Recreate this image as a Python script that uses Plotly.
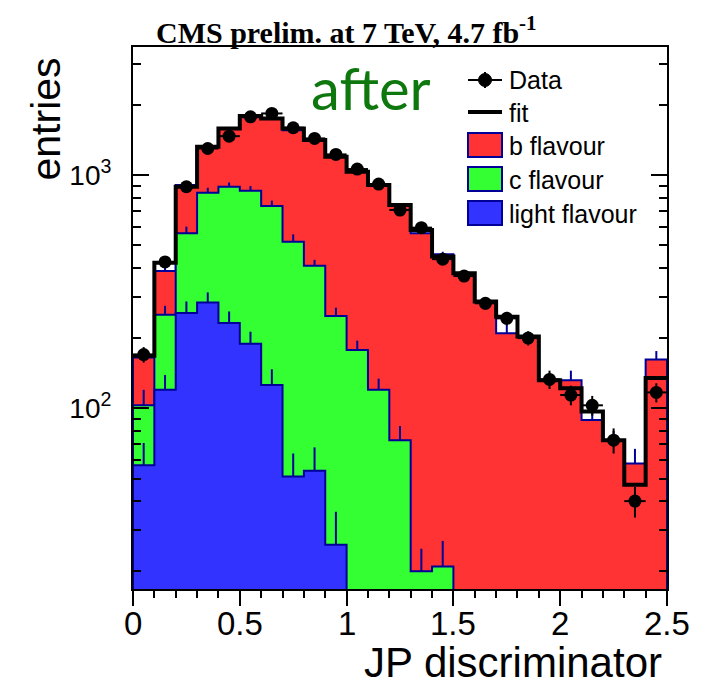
import numpy as np
import plotly.graph_objects as go

# ---------------- data ----------------
bin_edges = [round(0.1 * i, 1) for i in range(26)]
bin_centers = [round(0.05 + 0.1 * i, 2) for i in range(25)]

data_vals = [170, 424, 891, 1300, 1468, 1777, 1837, 1595, 1436, 1226, 1061, 915, 708,
             595, 436, 369, 282, 243, 200, 133, 114, 103, 73, 40, 117]
data_errs = [13, 21, 30, 36, 38, 42, 43, 40, 38, 35, 33, 30, 27,
             24, 21, 19, 17, 16, 14, 12, 11, 10, 9, 6, 11]

fit_vals = [168, 421, 890, 1321, 1585, 1790, 1749, 1585, 1412, 1198, 1033, 906, 744,
            581, 447, 379, 287, 247, 203, 132, 122, 97, 73, 47, 135]

light_vals = [57, 120, 256, 284, 232, 189, 126, 51, 54, 26, 0, 0, 0,
              0, 0, 0, 0, 0, 0, 0, 0, 0, 0, 0, 0]
c_vals = [46, 132, 307, 556, 659, 668, 611, 467, 354, 223, 178, 120, 73,
          20, 21, 0, 0, 0, 0, 0, 0, 0, 0, 0, 0]
b_vals = [62, 136, 343, 480, 694, 913, 1012, 1040, 1004, 945, 852, 786, 666,
          543, 437, 380, 286, 210, 203, 132, 132, 89, 73, 58, 162]

light_errs = [14, 19, 31, 30, 28, 24, 21, 13, 14, 10, 0, 0, 0,
              0, 0, 0, 0, 0, 0, 0, 0, 0, 0, 0, 0]
lc_errs = [17, 23, 38, 42, 38, 40, 40, 39, 25, 21, 17, 14, 11,
           5, 6, 0, 0, 0, 0, 0, 0, 0, 0, 0, 0]
total_errs = [6, 15, 15, 18, 20, 22, 22, 20, 19, 17, 16, 14, 13,
              12, 11, 10, 9, 34, 8, 10, 13, 12, 7, 9, 14]

ytick_vals = [100, 1000]
ytick_text = ["10<sup>2</sup>", "10<sup>3</sup>"]
ytick_minor = [20, 30, 40, 50, 60, 70, 80, 90, 200, 300, 400, 500, 600, 700, 800, 900, 2000, 3000]
xtick_vals = [0, 0.5, 1, 1.5, 2, 2.5]
xtick_text = ["0", "0.5", "1", "1.5", "2", "2.5"]

legend_labels = ["Data", "fit", "b flavour", "c flavour", "light flavour"]
title_text = "<b>CMS prelim. at 7 TeV, 4.7 fb<sup>-1</sup></b>"
after_text = "after"
x_title = "JP discriminator"
y_title = "entries"

# ---------------- styling ----------------
RED = "#FF3333"
GREEN = "#33FF33"
BLUE = "#3333FF"
NAVY = "#000099"
SANS = "Liberation Sans, Arial, Helvetica, sans-serif"
SERIF = "Liberation Serif, Times New Roman, serif"

W, H = 706, 686
ML, MR, MT, MB = 133, 39, 47, 97
PW, PH = W - ML - MR, H - MT - MB
YMIN, YMAX = 16.8, 3540.0
BASE = 1.0


def px2paper(x, y):
    return (x - ML) / PW, (H - MB - y) / PH


def step_polygon(vals):
    xs, ys = [bin_edges[0]], [BASE]
    for i, v in enumerate(vals):
        vv = v if v > 0 else BASE
        xs += [bin_edges[i], bin_edges[i + 1]]
        ys += [vv, vv]
    xs.append(bin_edges[-1])
    ys.append(BASE)
    return xs, ys


def step_line(vals):
    xs, ys = [], []
    for i, v in enumerate(vals):
        xs += [bin_edges[i], bin_edges[i + 1]]
        ys += [v, v]
    return xs, ys


lc_vals = [l + c for l, c in zip(light_vals, c_vals)]
tot_vals = [l + c + b for l, c, b in zip(light_vals, c_vals, b_vals)]

fig = go.Figure()


def add_hist(vals, errs, fillc):
    xs, ys = step_polygon(vals)
    fig.add_trace(go.Scatter(x=xs, y=ys, mode="lines", fill="toself", fillcolor=fillc,
                             line=dict(color=NAVY, width=2), hoverinfo="skip",
                             showlegend=False))
    ex = [c for c, v in zip(bin_centers, vals) if v > 0]
    ey = [v for v in vals if v > 0]
    ee = [e for e, v in zip(errs, vals) if v > 0]
    fig.add_trace(go.Scatter(x=ex, y=ey, mode="markers", marker=dict(size=1, opacity=0),
                             error_y=dict(type="data", symmetric=False, array=ee,
                                          arrayminus=[0] * len(ee), color=NAVY,
                                          thickness=2, width=0),
                             hoverinfo="skip", showlegend=False))


add_hist(tot_vals, total_errs, RED)
add_hist(lc_vals, lc_errs, GREEN)
add_hist(light_vals, light_errs, BLUE)

fx, fy = step_line(fit_vals)
fig.add_trace(go.Scatter(x=fx, y=fy, mode="lines", line=dict(color="black", width=4),
                         showlegend=False, hoverinfo="skip"))

fig.add_trace(go.Scatter(x=bin_centers, y=data_vals, mode="markers",
                         marker=dict(color="black", size=13),
                         error_y=dict(type="data", array=data_errs, color="black",
                                      thickness=2, width=0),
                         error_x=dict(type="constant", value=0.05, color="black",
                                      thickness=2, width=0),
                         showlegend=False))

# ---------------- manual legend ----------------
shapes = []
annotations = []
x0, y0 = px2paper(468, 0)
x1, _ = px2paper(502, 0)
xm, _ = px2paper(485, 0)
# Data
_, yd = px2paper(0, 80)
shapes.append(dict(type="line", xref="paper", yref="paper", x0=x0, x1=x1, y0=yd, y1=yd,
                   line=dict(color="black", width=2)))
_, yt = px2paper(0, 72)
_, yb = px2paper(0, 88)
shapes.append(dict(type="line", xref="paper", yref="paper", x0=xm, x1=xm, y0=yb, y1=yt,
                   line=dict(color="black", width=2)))
cx0, cy0 = px2paper(478.5, 73.5)
cx1, cy1 = px2paper(491.5, 86.5)
shapes.append(dict(type="circle", xref="paper", yref="paper", x0=cx0, x1=cx1, y0=cy1, y1=cy0,
                   fillcolor="black", line=dict(color="black", width=1)))
# fit
_, yf = px2paper(0, 112)
shapes.append(dict(type="line", xref="paper", yref="paper", x0=x0, x1=x1, y0=yf, y1=yf,
                   line=dict(color="black", width=4)))
# boxes
for (top, bot), col in zip([(133, 157), (167, 191), (201, 225)], [RED, GREEN, BLUE]):
    _, yt = px2paper(0, top)
    _, yb = px2paper(0, bot)
    shapes.append(dict(type="rect", xref="paper", yref="paper", x0=x0, x1=x1, y0=yb, y1=yt,
                       fillcolor=col, line=dict(color=NAVY, width=2)))

xt, _ = px2paper(507, 0)
for lab, yc in zip(legend_labels, [80, 113, 146, 180, 214]):
    _, yy = px2paper(0, yc)
    annotations.append(dict(text=lab, xref="paper", yref="paper", x=xt, y=yy,
                            xanchor="left", yanchor="middle", showarrow=False,
                            font=dict(family=SANS, size=25, color="black")))

# x tick labels (placed close under the ticks as in the reference)
_, xl_y = px2paper(0, 623)
for v, t in zip(xtick_vals, xtick_text):
    annotations.append(dict(text=t, xref="x", yref="paper", x=v, y=xl_y,
                            xanchor="center", yanchor="middle", showarrow=False,
                            font=dict(family=SANS, size=33, color="black")))

# title
tx, ty = px2paper(346, 30)
annotations.append(dict(text=title_text, xref="paper", yref="paper", x=tx, y=ty,
                        xanchor="center", yanchor="middle", showarrow=False,
                        font=dict(family=SERIF, size=30, color="black")))
# after
ax, ay = px2paper(371, 87)
annotations.append(dict(text=after_text, xref="paper", yref="paper", x=ax, y=ay,
                        xanchor="center", yanchor="middle", showarrow=False,
                        font=dict(family="Lato, Open Sans, sans-serif", size=58,
                                  color="#0E780E")))
# axis titles
jx, jy = px2paper(664, 662)
annotations.append(dict(text=x_title, xref="paper", yref="paper", x=jx, y=jy,
                        xanchor="right", yanchor="middle", showarrow=False,
                        font=dict(family=SANS, size=42, color="black")))
ex_, ey_ = px2paper(45, 56)
annotations.append(dict(text=y_title, xref="paper", yref="paper", x=ex_, y=ey_,
                        xanchor="center", yanchor="top", textangle=-90, showarrow=False,
                        font=dict(family=SANS, size=41, color="black")))

fig.update_layout(
    width=W, height=H,
    margin=dict(l=ML, r=MR, t=MT, b=MB),
    paper_bgcolor="white", plot_bgcolor="white",
    shapes=shapes, annotations=annotations,
    showlegend=False,
    xaxis=dict(range=[0, 2.5], tickmode="array", tickvals=xtick_vals, showticklabels=False,
               ticks="outside", ticklen=15, tickwidth=2, tickcolor="black",
               minor=dict(dtick=0.1, tick0=0, ticks="outside", ticklen=7, tickwidth=1.5,
                          tickcolor="black"),
               showline=True, linecolor="black", linewidth=2, mirror=True,
               showgrid=False, zeroline=False),
    yaxis=dict(type="log", range=[np.log10(YMIN), np.log10(YMAX)],
               tickmode="array", tickvals=ytick_vals, ticktext=ytick_text,
               ticks="inside", ticklen=16, tickwidth=2, tickcolor="black",
               minor=dict(tickmode="array", tickvals=ytick_minor, ticks="inside", ticklen=8,
                          tickwidth=1.5, tickcolor="black"),
               showline=True, linecolor="black", linewidth=2, mirror="ticks",
               showgrid=False, zeroline=False, ticklabelstandoff=14,
               tickfont=dict(family=SANS, size=28, color="black")),
)

fig.write_html("out.html")
